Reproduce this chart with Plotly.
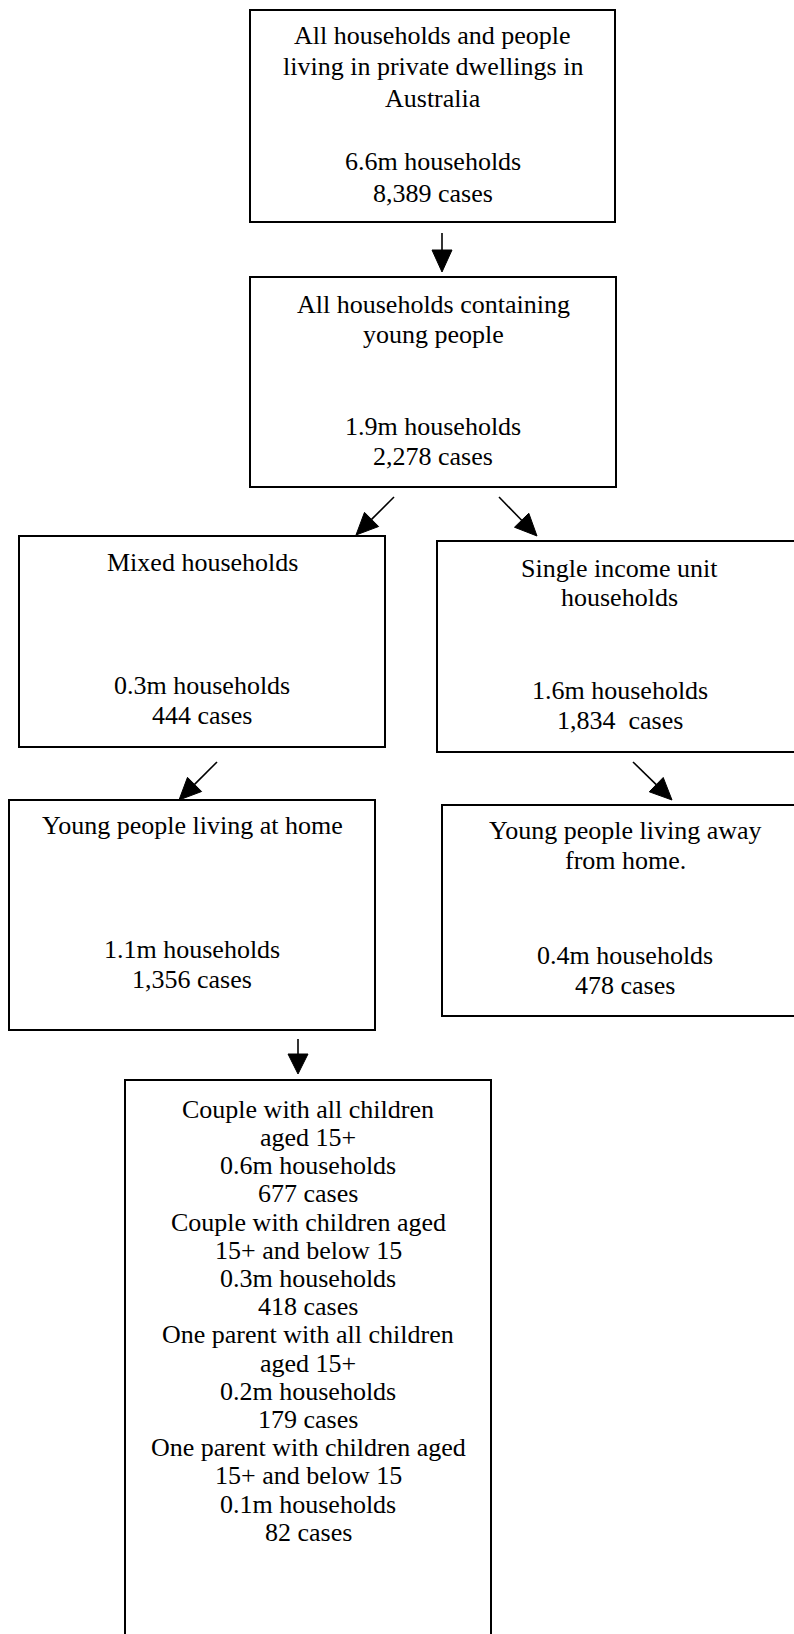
import plotly.graph_objects as go
import math

# ---- content (text of each box: top block and bottom block) ----
box_titles = [
    ["All households and people", "living in private dwellings in", "Australia"],
    ["All households containing", "young people"],
    ["Mixed households"],
    ["Single income unit", "households"],
    ["Young people living at home"],
    ["Young people living away", "from home."],
]
box_households = ["6.6m households", "1.9m households", "0.3m households",
                  "1.6m households", "1.1m households", "0.4m households"]
box_cases = ["8,389 cases", "2,278 cases", "444 cases", "1,834  cases",
             "1,356 cases", "478 cases"]

family_types = [
    ["Couple with all children", "aged 15+"],
    ["Couple with children aged", "15+ and below 15"],
    ["One parent with all children", "aged 15+"],
    ["One parent with children aged", "15+ and below 15"],
]
family_households = ["0.6m households", "0.3m households", "0.2m households", "0.1m households"]
family_cases = ["677 cases", "418 cases", "179 cases", "82 cases"]

# ---- layout (pixel geometry) ----
W, H = 794, 1634
FONT = "Liberation Serif, Times New Roman, serif"
FS = 26

# (x0, y0, x1, y1, title_first_baseline, title_spacing, numbers_first_baseline, numbers_spacing)
boxes = [
    (250, 10, 615, 222, 44, 31.5, 170, 32),
    (250, 277, 616, 487, 313, 30, 435, 30),
    (19, 536, 385, 747, 571, 30, 694, 30),
    (437, 541, 802, 752, 577, 29.5, 699, 30.5),
    (9, 800, 375, 1030, 834, 30, 958, 30),
    (442, 805, 808, 1016, 839, 30, 964, 30),
]
bottom_box = (125, 1080, 491, 1680)
bottom_first = 1118
bottom_ls = 28.2

arrows = [  # (x_start, y_start, x_tip, y_tip, head_len)
    (442, 233, 442, 272, 22),
    (394, 497, 356, 535, 22),
    (499, 497, 537, 536, 22),
    (217, 762, 179, 800, 22),
    (633, 762, 672, 800, 22),
    (298, 1039, 298, 1074, 20),
]

fig = go.Figure()
shapes = []
annotations = []


def add_line(text, cx, baseline, fs=FS):
    annotations.append(dict(
        x=cx, y=baseline - 0.3375 * fs, xref="x", yref="y", text=text,
        showarrow=False, xanchor="center", yanchor="middle",
        font=dict(family=FONT, size=fs, color="black")))


for i, (x0, y0, x1, y1, tb, tls, nb, nls) in enumerate(boxes):
    shapes.append(dict(type="rect", x0=x0, y0=y0, x1=x1, y1=y1, xref="x", yref="y",
                       line=dict(color="black", width=2), fillcolor="white", layer="below"))
    cx = (x0 + x1) / 2
    for k, t in enumerate(box_titles[i]):
        add_line(t, cx, tb + k * tls)
    add_line(box_households[i], cx, nb)
    add_line(box_cases[i], cx, nb + nls)

x0, y0, x1, y1 = bottom_box
shapes.append(dict(type="rect", x0=x0, y0=y0, x1=x1, y1=y1, xref="x", yref="y",
                   line=dict(color="black", width=2), fillcolor="white", layer="below"))
cx = (x0 + x1) / 2
lines = []
for t, hh, cs in zip(family_types, family_households, family_cases):
    lines += t + [hh, cs]
for k, t in enumerate(lines):
    add_line(t, cx, bottom_first + k * bottom_ls)

for xs, ys, xt, yt, hl in arrows:
    dx, dy = xt - xs, yt - ys
    L = math.hypot(dx, dy)
    ux, uy = dx / L, dy / L
    bx, by = xt - ux * hl, yt - uy * hl
    hw = 10
    px, py = -uy, ux
    shapes.append(dict(type="line", x0=xs, y0=ys, x1=bx, y1=by, xref="x", yref="y",
                       line=dict(color="black", width=1.6)))
    path = (f"M {xt},{yt} L {bx + px * hw},{by + py * hw} "
            f"L {bx - px * hw},{by - py * hw} Z")
    shapes.append(dict(type="path", path=path, xref="x", yref="y",
                       fillcolor="black", line=dict(color="black", width=1)))

fig.update_layout(
    width=W, height=H,
    margin=dict(l=0, r=0, t=0, b=0),
    paper_bgcolor="white", plot_bgcolor="white",
    xaxis=dict(range=[0, W], visible=False, fixedrange=True),
    yaxis=dict(range=[H, 0], visible=False, fixedrange=True),
    shapes=shapes, annotations=annotations, showlegend=False,
)
fig.write_html(
    "out.html",
    config={"displayModeBar": False},
    post_script="document.body.style.margin='0';document.body.style.overflow='hidden';",
)
